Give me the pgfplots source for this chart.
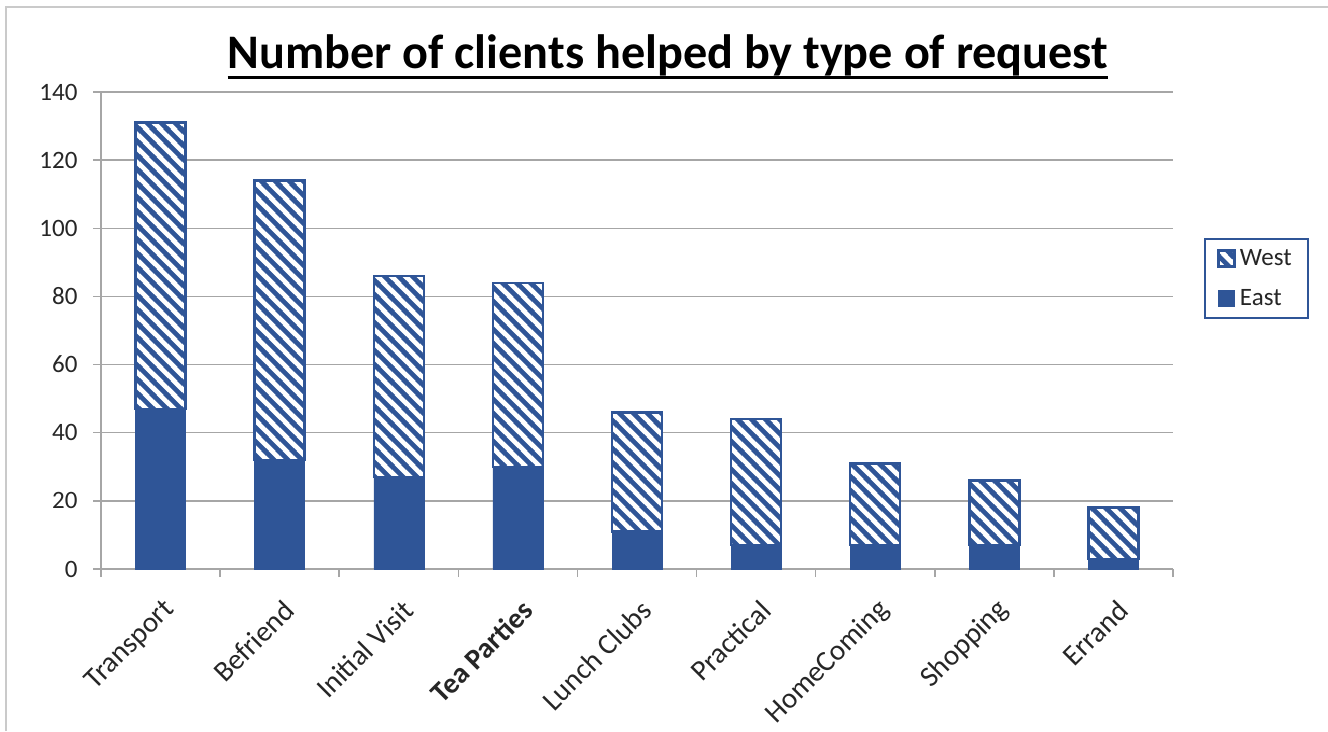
\documentclass[border=0pt]{standalone}
\usepackage{fontspec}
\setmainfont{Carlito}
\usepackage{pgfplots}
\pgfplotsset{compat=1.18}
\usetikzlibrary{patterns.meta}
\definecolor{myblue}{RGB}{47,85,151}
\definecolor{gridgray}{RGB}{166,166,166}
\tikzdeclarepattern{
  name=thickstripes,
  type=uncolored,
  bottom left={(0pt,0pt)},
  top right={(14pt,14pt)},
  tile size={(14pt,14pt)},
  code={
    \draw[line width=4.8pt] (-2pt,16pt) -- (16pt,-2pt);
    \draw[line width=4.8pt] (-3pt,3pt) -- (3pt,-3pt);
    \draw[line width=4.8pt] (11pt,17pt) -- (17pt,11pt);
  }
}
\begin{document}
\begin{tikzpicture}[x=1pt,y=1pt]
\useasboundingbox (0,0) rectangle (1328,731);
\draw[gridgray!60, line width=1.5pt] (6,0) -- (6,724) -- (1328,724);
\begin{axis}[
  at={(101pt,162pt)}, anchor=south west,
  scale only axis, width=1072pt, height=477pt,
  ybar stacked, bar width=50pt,
  xmin=-0.5, xmax=8.5, ymin=0, ymax=140,
  ytick={0,20,...,140},
  xtick={0,...,8},
  xticklabels={Transport,Befriend,Initial Visit,\textbf{Tea Parties},Lunch Clubs,Practical,HomeComing,Shopping,Errand},
  minor xtick={-0.5,0.5,...,8.5},
  axis x line*=bottom, axis y line*=left,
  axis line style={gridgray, line width=1.5pt, -},
  ymajorgrids, grid style={gridgray, line width=1.5pt},
  major x tick style={draw=none},
  minor x tick style={gridgray, line width=1.5pt},
  y tick style={gridgray, line width=1.5pt},
  tick align=outside,
  major tick length=8pt, minor tick length=8pt,
  /pgf/number format/assume math mode=true,
  yticklabel style={font=\fontsize{25}{30}\selectfont, text=black!85, xshift=-12pt},
  xticklabel style={font=\fontsize{29}{34}\selectfont, text=black!85, rotate=45, anchor=east, yshift=-27pt, xshift=-10pt},
  legend style={at={(1.029,0.694)}, anchor=north west, draw=myblue, line width=1.8pt,
    font=\fontsize{25}{30}\selectfont, text=black!85, inner xsep=13pt, inner ysep=8pt, row sep=16pt,
    column sep=2pt, nodes={inner sep=3pt}},
  legend cell align=left,
  reverse legend,
  legend image code/.code={\draw[#1, line width=1pt] (0pt,-8pt) rectangle (16pt,8pt);},
]
\addplot[fill=myblue, draw=myblue] coordinates {(0,47) (1,32) (2,27) (3,30) (4,11) (5,7) (6,7) (7,7) (8,3)};
\addplot[preaction={fill=white}, pattern=thickstripes, pattern color=myblue, draw=myblue, line width=2.5pt] coordinates {(0,84) (1,82) (2,59) (3,54) (4,35) (5,37) (6,24) (7,19) (8,15)};
\legend{East,West}
\end{axis}
\node[anchor=base, inner sep=0pt, font=\fontsize{48.2}{58}\selectfont\bfseries] (T) at (668,662) {Number of clients helped by type of request};
\draw[line width=3pt] ([yshift=-9pt]T.base west) -- ([yshift=-9pt]T.base east);
\end{tikzpicture}
\end{document}
